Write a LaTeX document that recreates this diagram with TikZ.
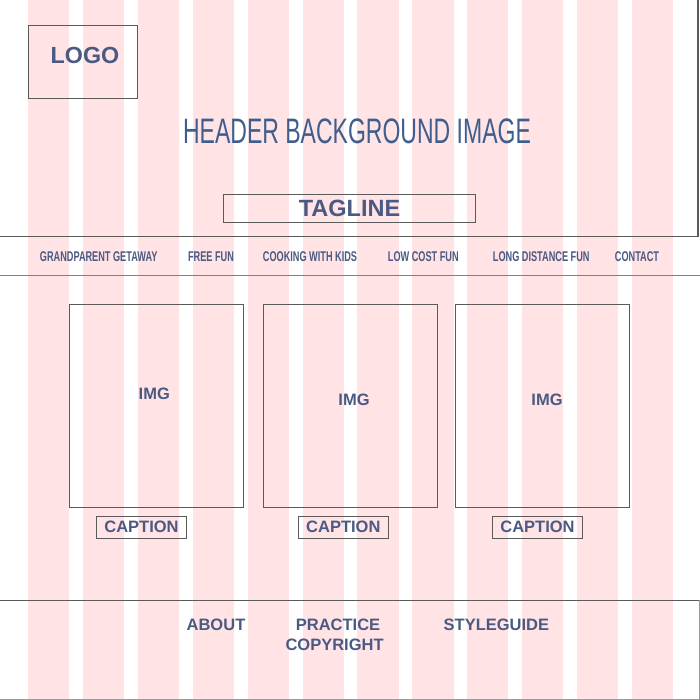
\documentclass[tikz,border=0pt]{standalone}
\usepackage{fontspec}
\setmainfont{Liberation Sans}
\newfontfamily\narrowfont[FakeStretch=0.65]{Liberation Sans}
\usetikzlibrary{positioning}
\definecolor{gridpink}{HTML}{FFE3E5}
\definecolor{labelblue}{HTML}{4B5A82}
\definecolor{headblue}{HTML}{3F5E8E}
\definecolor{frame}{HTML}{5A5A5A}
\tikzset{
  col/.style={fill=gridpink},
  box/.style={draw=frame, line width=0.9pt, inner sep=0pt},
  boldtext/.style={text=labelblue, inner sep=0pt, font=\bfseries\fontsize{16.5}{16.5}\selectfont},
  navitem/.style={text=labelblue, inner sep=0pt, anchor=base, font=\narrowfont\bfseries\fontsize{14.1}{14}\selectfont},
}

\begin{document}
\begin{tikzpicture}[x=1pt,y=-1pt]
  \useasboundingbox (0,0) rectangle (700,700);

  % grid columns
  \foreach \c in {0,...,11} {
    \fill[col] (28+54.9*\c,0) rectangle ++(41.2,700);
  }

  % header
  \draw[frame, line width=1.3pt] (0,236.5) -- (698,236.5) -- (698,0);
  \node[box, minimum width=109, minimum height=73.4] (logo) at (82.7,62) {};
  \node[boldtext, anchor=base, font=\bfseries\fontsize{23.3}{23}\selectfont] (logotext) at (85,63.3) {LOGO};
  \node[text=headblue, inner sep=0pt, anchor=base, font=\narrowfont\fontsize{35.4}{35}\selectfont] (headline) at (357,144) {HEADER BACKGROUND IMAGE};
  \node[box, boldtext, minimum width=252.4, minimum height=28, font=\bfseries\fontsize{23.5}{23}\selectfont] (tagline) at (349.5,208) {TAGLINE};

  % navigation
  \foreach \x/\t [count=\i] in {98.7/GRANDPARENT GETAWAY, 211/FREE FUN, 310/COOKING WITH KIDS, 423.3/LOW COST FUN, 541.2/LONG DISTANCE FUN, 637/CONTACT} {
    \node[navitem] (nav\i) at (\x,261.7) {\t};
  }
  \draw[gray, line width=0.9pt] (0,275.5) -- (700,275.5);

  % images and captions
  \foreach \x/\tx/\ty/\cx [count=\i] in {156/154.3/394/141.5, 350.2/354/400/343.3, 542.5/547/400/537.5} {
    \node[box, minimum width=174, minimum height=203.3] (img\i) at (\x,405.7) {};
    \node[boldtext] (imgtext\i) at (\tx,\ty) {IMG};
    \node[box, boldtext, minimum width=90.2, minimum height=22.3] (cap\i) at (\cx,527.2) {CAPTION};
  }

  % footer
  \draw[frame, line width=1pt] (0,600.3) -- (699.5,600.3);
  \draw[gray!80, line width=0.9pt] (699.5,600.3) -- (699.5,699.2) -- (0,699.2);
  \node[boldtext, anchor=base] (about) at (216,630.7) {ABOUT};
  \node[boldtext, anchor=base] (practice) at (338,630.7) {PRACTICE};
  \node[boldtext, anchor=base] (copyright) at (334.6,650.7) {COPYRIGHT};
  \node[boldtext, anchor=base] (styleguide) at (496.4,630.7) {STYLEGUIDE};
\end{tikzpicture}
\end{document}
